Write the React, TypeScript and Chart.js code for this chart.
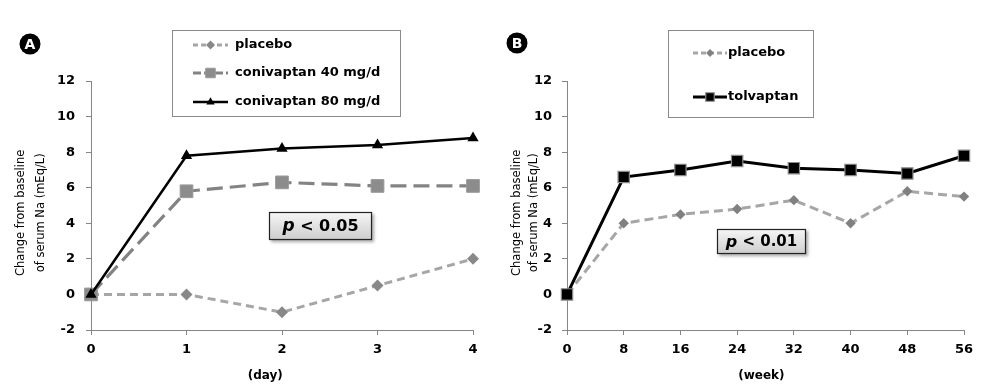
import React, { useEffect, useRef } from 'react';
import { Chart, registerables } from 'chart.js';

Chart.register(...registerables);

const FONT = "'DejaVu Sans', Verdana, sans-serif";

// ---- Panel A (day) ----
const dayTicks = [0, 1, 2, 3, 4];
const placeboA = [0, 0, -1, 0.5, 2];
const conivaptan40 = [0, 5.8, 6.3, 6.1, 6.1];
const conivaptan80 = [0, 7.8, 8.2, 8.4, 8.8];

// ---- Panel B (week) ----
const weekTicks = [0, 8, 16, 24, 32, 40, 48, 56];
const placeboB = [0, 4.0, 4.5, 4.8, 5.3, 4.0, 5.8, 5.5];
const tolvaptan = [0, 6.6, 7.0, 7.5, 7.1, 7.0, 6.8, 7.8];

const yTicks = [-2, 0, 2, 4, 6, 8, 10, 12];
// trailing spaces nudge the centred titles to where the original sits
const yTitle = ['Change from baseline    ', 'of serum Na (mEq/L)    '];

function drawMarker(ctx: CanvasRenderingContext2D, style: string, x: number, y: number, r: number, fill: string, stroke: string, bw: number) {
  ctx.beginPath();
  if (style === 'rect') {
    const s = Math.SQRT1_2 * r;
    ctx.rect(x - s, y - s, 2 * s, 2 * s);
  } else if (style === 'rectRot') {
    ctx.moveTo(x, y - r);
    ctx.lineTo(x + r, y);
    ctx.lineTo(x, y + r);
    ctx.lineTo(x - r, y);
    ctx.closePath();
  } else if (style === 'triangle') {
    let a = 0;
    ctx.moveTo(x + Math.sin(a) * r, y - Math.cos(a) * r);
    a += (2 * Math.PI) / 3;
    ctx.lineTo(x + Math.sin(a) * r, y - Math.cos(a) * r);
    a += (2 * Math.PI) / 3;
    ctx.lineTo(x + Math.sin(a) * r, y - Math.cos(a) * r);
    ctx.closePath();
  }
  ctx.fillStyle = fill;
  ctx.fill();
  if (bw > 0) {
    ctx.lineWidth = bw;
    ctx.strokeStyle = stroke;
    ctx.setLineDash([]);
    ctx.stroke();
  }
}

function makeDeco(cfg: any) {
  return {
    id: 'deco',
    afterDatasetsDraw(chart: any) {
      const ctx: CanvasRenderingContext2D = chart.ctx;
      ctx.save();
      // badge
      const b = cfg.badge;
      ctx.beginPath();
      ctx.arc(b.x, b.y, b.r, 0, Math.PI * 2);
      ctx.fillStyle = '#000';
      ctx.fill();
      ctx.fillStyle = '#fff';
      ctx.font = `bold 14px ${FONT}`;
      ctx.textAlign = 'center';
      ctx.textBaseline = 'middle';
      ctx.fillText(b.text, b.x, b.y + 1);

      // legend
      const L = cfg.legend;
      const [lx, ly, lw, lh] = L.box;
      ctx.fillStyle = '#fff';
      ctx.fillRect(lx, ly, lw, lh);
      ctx.strokeStyle = '#8a8a8a';
      ctx.lineWidth = 1;
      ctx.setLineDash([]);
      ctx.strokeRect(lx + 0.5, ly + 0.5, lw - 1, lh - 1);
      L.items.forEach((di: number, i: number) => {
        const ds = chart.data.datasets[di];
        const yy = L.rows[i];
        ctx.beginPath();
        ctx.setLineDash(ds.legendDash || []);
        ctx.lineWidth = ds.borderWidth;
        ctx.strokeStyle = ds.borderColor;
        ctx.moveTo(L.lineX[0], yy);
        ctx.lineTo(L.lineX[1], yy);
        ctx.stroke();
        ctx.setLineDash([]);
        drawMarker(ctx, ds.pointStyle, (L.lineX[0] + L.lineX[1]) / 2, yy, ds.pointRadius * 0.75, ds.pointBackgroundColor, ds.pointBorderColor, ds.pointBorderWidth);
        ctx.fillStyle = '#000';
        ctx.font = `bold 13px ${FONT}`;
        ctx.textAlign = 'left';
        ctx.textBaseline = 'middle';
        ctx.fillText(ds.label, L.textX, yy);
      });

      // p-value box
      const P = cfg.pbox;
      const [px, py, pw, ph] = P.box;
      ctx.save();
      ctx.shadowColor = 'rgba(0,0,0,0.35)';
      ctx.shadowBlur = 3;
      ctx.shadowOffsetX = 2;
      ctx.shadowOffsetY = 2;
      const g = ctx.createLinearGradient(0, py, 0, py + ph);
      g.addColorStop(0, '#f6f6f6');
      g.addColorStop(1, '#cdcdcd');
      ctx.fillStyle = g;
      ctx.fillRect(px, py, pw, ph);
      ctx.restore();
      ctx.strokeStyle = '#222';
      ctx.lineWidth = 1.2;
      ctx.strokeRect(px + 0.5, py + 0.5, pw - 1, ph - 1);
      const fItal = `italic bold ${P.size + 1}px ${FONT}`;
      const fReg = `bold ${P.size}px ${FONT}`;
      ctx.font = fItal;
      const w1 = ctx.measureText('p').width;
      ctx.font = fReg;
      const rest = ' < ' + P.value;
      const w2 = ctx.measureText(rest).width;
      const sx = px + (pw - w1 - w2) / 2;
      const cy = py + ph / 2 + 1;
      ctx.fillStyle = '#000';
      ctx.textAlign = 'left';
      ctx.textBaseline = 'middle';
      ctx.font = fItal;
      ctx.fillText('p', sx, cy);
      ctx.font = fReg;
      ctx.fillText(rest, sx + w1, cy);
      ctx.restore();
    },
  };
}

function makeConfig(p: any) {
  return {
    type: 'line',
    data: { datasets: p.datasets },
    options: {
      responsive: false,
      maintainAspectRatio: false,
      animation: false,
      layout: { padding: { left: p.padL, top: 81, right: p.padR, bottom: 0 } },
      plugins: { legend: { display: false }, tooltip: { enabled: false } },
      scales: {
        x: {
          type: 'linear',
          min: p.xTicks[0],
          max: p.xTicks[p.xTicks.length - 1],
          afterBuildTicks: (s: any) => {
            s.ticks = p.xTicks.map((v: number) => ({ value: v }));
          },
          afterFit: (s: any) => {
            s.height = 58;
          },
          grid: { drawOnChartArea: false, tickLength: 5, color: '#868686' },
          border: { color: '#868686', width: 1 },
          ticks: { font: { family: FONT, size: 13, weight: 'bold' }, color: '#000', padding: 7, maxRotation: 0, autoSkip: false },
          title: { display: true, text: p.xTitle, color: '#000', font: { family: FONT, size: 12, weight: 'bold' }, padding: { top: 0, bottom: 5 } },
        },
        y: {
          type: 'linear',
          min: yTicks[0],
          max: yTicks[yTicks.length - 1],
          afterBuildTicks: (s: any) => {
            s.ticks = yTicks.map((v) => ({ value: v }));
          },
          afterFit: (s: any) => {
            s.width = p.yWidth;
          },
          grid: { drawOnChartArea: false, tickLength: 5, color: '#868686' },
          border: { color: '#868686', width: 1 },
          ticks: { font: { family: FONT, size: 13, weight: 'bold' }, color: '#000', padding: p.yPad, autoSkip: false },
          title: { display: true, text: yTitle, color: '#000', font: { family: FONT, size: 11.5, weight: 'normal', lineHeight: p.titleLH }, padding: 0 },
        },
      },
    },
    plugins: [makeDeco(p.deco)],
  };
}

function series(xs: number[], ys: number[]) {
  return xs.map((x, i) => ({ x, y: ys[i] }));
}

const configA = () =>
  makeConfig({
    xTicks: dayTicks,
    xTitle: '(day)        ',
    padL: 11,
    padR: 22,
    yWidth: 80,
    yPad: 11,
    titleLH: '20px',
    datasets: [
      {
        label: 'placebo',
        data: series(dayTicks, placeboA),
        borderColor: '#a6a6a6',
        borderWidth: 3,
        borderDash: [8, 5],
        legendDash: [5, 3],
        pointStyle: 'rectRot',
        pointRadius: 6,
        pointBackgroundColor: '#888888',
        pointBorderColor: '#888888',
        pointBorderWidth: 0,
        order: 2,
        clip: false,
        tension: 0,
      },
      {
        label: 'conivaptan 40 mg/d',
        data: series(dayTicks, conivaptan40),
        borderColor: '#838383',
        borderWidth: 3.2,
        borderDash: [16, 7],
        legendDash: [8, 3],
        pointStyle: 'rect',
        pointRadius: 9,
        pointBackgroundColor: '#8c8c8c',
        pointBorderColor: '#9a9a9a',
        pointBorderWidth: 1,
        order: 1,
        clip: false,
        tension: 0,
      },
      {
        label: 'conivaptan 80 mg/d',
        data: series(dayTicks, conivaptan80),
        borderColor: '#000000',
        borderWidth: 2.5,
        pointStyle: 'triangle',
        pointRadius: 6.5,
        pointBackgroundColor: '#000000',
        pointBorderColor: '#000000',
        pointBorderWidth: 0,
        order: 0,
        clip: false,
        tension: 0,
      },
    ],
    deco: {
      badge: { x: 30, y: 44, r: 10.5, text: 'A' },
      legend: { box: [172, 30, 229, 87], rows: [45, 73, 102], lineX: [193, 228], textX: 235, items: [0, 1, 2] },
      pbox: { box: [269, 212, 103, 28], value: '0.05', size: 16 },
    },
  });

const configB = () =>
  makeConfig({
    xTicks: weekTicks,
    xTitle: '(week)  ',
    padL: 13.5,
    padR: 31,
    yWidth: 58.5,
    yPad: 10,
    titleLH: '17px',
    datasets: [
      {
        label: 'placebo',
        data: series(weekTicks, placeboB),
        borderColor: '#a6a6a6',
        borderWidth: 3,
        borderDash: [9, 5],
        legendDash: [5, 3],
        pointStyle: 'rectRot',
        pointRadius: 5.2,
        pointBackgroundColor: '#808080',
        pointBorderColor: '#808080',
        pointBorderWidth: 0,
        order: 1,
        clip: false,
        tension: 0,
      },
      {
        label: 'tolvaptan',
        data: series(weekTicks, tolvaptan),
        borderColor: '#000000',
        borderWidth: 3,
        pointStyle: 'rect',
        pointRadius: 8,
        pointBackgroundColor: '#000000',
        pointBorderColor: '#8a8a8a',
        pointBorderWidth: 1.2,
        order: 0,
        clip: false,
        tension: 0,
      },
    ],
    deco: {
      badge: { x: 22, y: 43, r: 10.5, text: 'B' },
      legend: { box: [173, 30, 146, 88], rows: [53, 97], lineX: [198, 232], textX: 233, items: [0, 1] },
      pbox: { box: [222, 229, 89, 25], value: '0.01', size: 15 },
    },
  });

function Panel({ left, width, config }: { left: number; width: number; config: () => any }) {
  const ref = useRef<HTMLCanvasElement>(null);
  useEffect(() => {
    const chart = new Chart(ref.current as HTMLCanvasElement, config());
    return () => chart.destroy();
  }, []);
  return (
    <canvas
      ref={ref}
      width={width}
      height={388}
      style={{ position: 'absolute', left, top: 0, width, height: 388 }}
    />
  );
}

export default function App() {
  return (
    <div style={{ position: 'absolute', left: 0, top: 0, width: 995, height: 388, background: '#fff', overflow: 'hidden' }}>
      <Panel left={0} width={495} config={configA} />
      <Panel left={495} width={500} config={configB} />
    </div>
  );
}
